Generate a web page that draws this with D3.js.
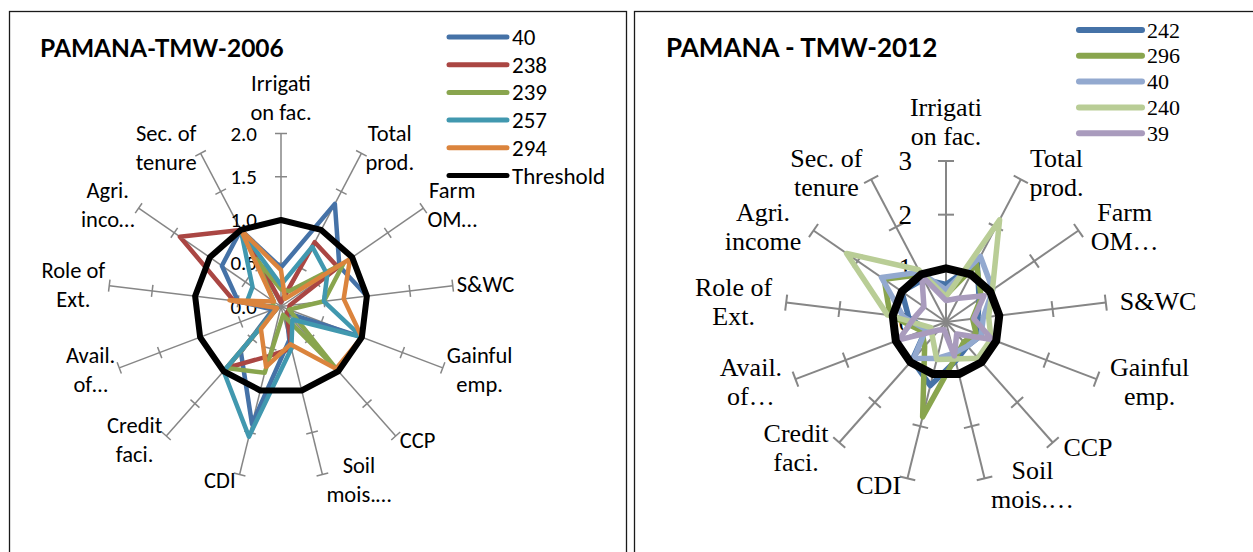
<!DOCTYPE html>
<html lang="en">
<head>
<meta charset="UTF-8">
<title>PAMANA radar charts</title>
<style>
  body { margin: 0; background: #fff; }
  svg { display: block; }
</style>
</head>
<body>
<div id="graphArea"></div>
<script src="https://d3js.org/d3.v7.min.js"></script>
<script>
// ---- data ----
// axis order: Irr, Total prod, Farm OM, S&WC, Gainful emp, CCP, Soil mois, CDI, Credit, Avail, Role of Ext, Agri income, Sec. of tenure
const labels2006 = [["Irrigati", "on fac."], ["Total", "prod."], ["Farm", "OM…"], ["S&WC"], ["Gainful", "emp."], ["CCP"],
  ["Soil", "mois.…"], ["CDI"], ["Credit", "faci."], ["Avail.", "of…"], ["Role of", "Ext."], ["Agri.", "inco…"], ["Sec. of", "tenure"]];
const labels2012 = [["Irrigati", "on fac."], ["Total", "prod."], ["Farm", "OM…"], ["S&WC"], ["Gainful", "emp."], ["CCP"],
  ["Soil", "mois.…"], ["CDI"], ["Credit", "faci."], ["Avail.", "of…"], ["Role of", "Ext."], ["Agri.", "income"], ["Sec. of", "tenure"]];

const ticks2006 = [0, 0.5, 1, 1.5, 2];
const ticks2012 = [0, 1, 2, 3];

const names2006 = ["40", "238", "239", "257", "294", "Threshold"];
const v40_2006  = [0.45, 1.34, 0.82, 1.00, 1.00, 0.10, 0.40, 1.40, 0.70, 0.10, 0.50, 0.83, 1.00];
const v238_2006 = [0.05, 0.84, 0.80, 0.10, 0.10, 0.10, 0.50, 0.59, 0.95, 0.05, 0.55, 1.42, 1.00];
const v239_2006 = [0.20, 0.20, 0.88, 0.50, 0.10, 0.95, 0.10, 0.79, 0.95, 0.05, 0.10, 0.10, 0.62];
const v257_2006 = [0.25, 0.78, 0.65, 0.50, 1.00, 0.20, 0.50, 1.55, 1.00, 0.05, 0.40, 0.40, 1.00];
const v294_2006 = [0.42, 0.10, 0.97, 0.73, 1.00, 0.96, 0.45, 0.72, 0.35, 0.05, 0.60, 0.10, 1.00];
const threshold2006 = [1, 1, 1, 1, 1, 1, 1, 1, 1, 1, 1, 1, 1];

const names2012 = ["242", "296", "40", "240", "39"];
const v242_2012 = [0.70, 1.25, 0.75, 0.60, 0.70, 0.60, 0.75, 1.22, 0.95, 0.40, 0.70, 1.00, 0.90];
const v296_2012 = [0.50, 1.22, 0.80, 0.50, 0.60, 0.50, 0.70, 1.82, 0.60, 0.48, 1.05, 1.40, 1.00];
const v40_2012  = [0.60, 1.38, 1.06, 0.70, 0.70, 0.60, 0.60, 0.70, 0.90, 0.40, 0.80, 1.46, 1.05];
const v240_2012 = [0.47, 2.15, 1.05, 0.80, 0.90, 0.90, 0.71, 0.72, 0.38, 0.30, 1.10, 2.25, 1.10];
const v39_2012  = [0.40, 0.50, 0.86, 0.52, 0.92, 0.30, 0.65, 0.15, 0.20, 0.94, 0.60, 0.50, 0.97];
const threshold2012 = [1, 1, 1, 1, 1, 1, 1, 1, 1, 1, 1, 1, 1];

const W = 1253, H = 552;
const svg = d3.select("#graphArea").append("svg").attr("width", W).attr("height", H);

// chart frames
svg.append("rect").attr("x", 9.5).attr("y", 11.5).attr("width", 617).attr("height", 600)
  .attr("fill", "none").attr("stroke", "#1a1a1a").attr("stroke-width", 1.3);
svg.append("rect").attr("x", 634.5).attr("y", 11.5).attr("width", 700).attr("height", 600)
  .attr("fill", "none").attr("stroke", "#1a1a1a").attr("stroke-width", 1.3);

const drawRadar = (o) => {
  const g = svg.append("g");
  const n = o.labels.length;
  const r = d3.scaleLinear().domain([0, o.max]).range([0, o.R]);
  const ang = d3.scaleLinear().domain([0, n]).range([0, 2 * Math.PI]);
  const pt = (i, v) => [o.cx + r(v) * Math.sin(ang(i)), o.cy - r(v) * Math.cos(ang(i))];

  // spokes with tick marks
  d3.range(n).forEach(i => {
    const [ex, ey] = pt(i, o.max);
    g.append("line").attr("x1", o.cx).attr("y1", o.cy).attr("x2", ex).attr("y2", ey)
      .attr("stroke", "#868686").attr("stroke-width", o.axisW);
    const a = ang(i), px = Math.cos(a), py = Math.sin(a);
    o.ticks.filter(t => t > 0).forEach(t => {
      const [tx, ty] = pt(i, t);
      g.append("line")
        .attr("x1", tx - px * o.tickLen).attr("y1", ty - py * o.tickLen)
        .attr("x2", tx + px * o.tickLen).attr("y2", ty + py * o.tickLen)
        .attr("stroke", "#868686").attr("stroke-width", o.axisW);
    });
  });

  // value labels along the first spoke
  g.selectAll("text.tick").data(o.ticks).join("text")
    .attr("class", "tick")
    .attr("x", o.cx - o.tickDx)
    .attr("y", d => o.cy - r(d))
    .attr("text-anchor", "end")
    .attr("dominant-baseline", "central")
    .style("font-family", o.font).style("font-size", o.tickSize + "px")
    .text(o.tickFormat);

  // category labels
  o.labels.forEach((lines, i) => {
    const a = ang(i), s = Math.sin(a), c = Math.cos(a);
    const [ex, ey] = pt(i, o.max);
    const lab = g.append("g");
    const texts = lines.map(t => lab.append("text")
      .attr("text-anchor", "middle").attr("dominant-baseline", "central")
      .style("font-family", o.font).style("font-size", o.labSize + "px").text(t));
    const w = d3.max(texts, t => t.node().getComputedTextLength());
    const hgt = lines.length * o.lineH;
    let bx, by;
    if (Math.abs(s) < 0.1) {
      bx = ex;
      by = ey - o.topGap - hgt / 2;
    } else {
      const gap = o.gap0 + o.gap1 * Math.abs(s);
      bx = s > 0 ? ex + gap + w / 2 : ex - gap - w / 2;
      by = ey - o.dyK * c + o.dy0;
    }
    texts.forEach((t, k) => t.attr("x", bx).attr("y", by - hgt / 2 + o.lineH * (k + 0.5)));
  });

  // series
  const line = d3.lineRadial()
    .angle((d, i) => ang(i))
    .radius(d => r(d))
    .curve(d3.curveLinearClosed);
  o.series.forEach(s => {
    g.append("path")
      .datum(s.values)
      .attr("transform", `translate(${o.cx},${o.cy})`)
      .attr("d", line)
      .attr("fill", "none")
      .attr("stroke", s.color)
      .attr("stroke-width", s.width)
      .attr("stroke-linejoin", "round");
  });

  // title
  svg.append("text").attr("x", o.titleX).attr("y", o.titleY)
    .attr("dominant-baseline", "central")
    .style("font-family", "Lato, 'Noto Sans', sans-serif").style("font-weight", "bold")
    .style("font-size", o.titleSize + "px").text(o.title);

  // legend
  const lg = svg.append("g");
  o.legend.forEach((d, k) => {
    const y = o.legY + k * o.legStep;
    lg.append("line").attr("x1", o.legX).attr("x2", o.legX + o.legLen).attr("y1", y).attr("y2", y)
      .attr("stroke", d.color).attr("stroke-width", o.legW).attr("stroke-linecap", "round");
    lg.append("text").attr("x", o.legX + o.legLen + 5).attr("y", y)
      .attr("dominant-baseline", "central")
      .style("font-family", o.font).style("font-size", o.legSize + "px").text(d.name);
  });
};

const colors2006 = ["#4572A7", "#AA4643", "#89A54E", "#4198AF", "#DB843D", "#000000"];
const vals2006 = [v40_2006, v238_2006, v239_2006, v257_2006, v294_2006, threshold2006];
const series2006 = names2006.map((nm, k) => ({ name: nm, values: vals2006[k], color: colors2006[k], width: k === 5 ? 6 : 4.5 }));

drawRadar({
  cx: 281, cy: 306.5, R: 173, max: 2, ticks: ticks2006, tickFormat: d3.format(".1f"),
  labels: labels2006, series: series2006, legend: series2006,
  font: "Carlito, Calibri, Lato, sans-serif",
  axisW: 1.5, tickLen: 6, tickDx: 24, tickSize: 21,
  labSize: 22.5, lineH: 29, topGap: 7, gap0: 4, gap1: 0, dyK: 6, dy0: 0,
  title: "PAMANA-TMW-2006", titleX: 40, titleY: 47, titleSize: 24.5,
  legX: 449, legY: 37, legStep: 27.7, legLen: 58, legW: 5, legSize: 23
});

const colors2012 = ["#4572A7", "#89A54E", "#93A9CF", "#B9CD96", "#A99BBD"];
const vals2012 = [v242_2012, v296_2012, v40_2012, v240_2012, v39_2012];
const series2012 = names2012.map((nm, k) => ({ name: nm, values: vals2012[k], color: colors2012[k], width: 5.5 }));
series2012.push({ name: "Threshold", values: threshold2012, color: "#000000", width: 8 });

drawRadar({
  cx: 946, cy: 322, R: 161, max: 3, ticks: ticks2012, tickFormat: d3.format("d"),
  labels: labels2012, series: series2012, legend: series2012.slice(0, 5),
  font: "'Liberation Serif', 'Times New Roman', serif",
  axisW: 2, tickLen: 8, tickDx: 34, tickSize: 27,
  labSize: 26, lineH: 29, topGap: 10, gap0: 4, gap1: 10, dyK: 7, dy0: 0,
  title: "PAMANA - TMW-2012", titleX: 666, titleY: 47, titleSize: 26,
  legX: 1079, legY: 30, legStep: 25.8, legLen: 63, legW: 6, legSize: 22
});
</script>
</body>
</html>
